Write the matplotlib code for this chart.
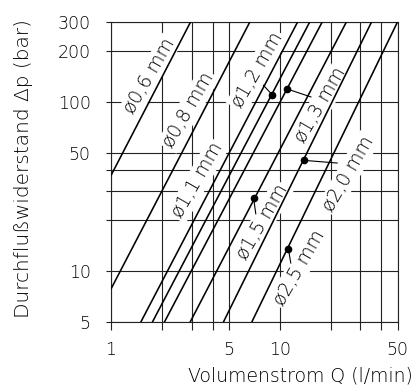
import matplotlib
matplotlib.use("Agg")
import matplotlib.pyplot as plt

plt.rcParams['font.family'] = ['DejaVu Sans']
plt.rcParams['font.weight'] = 'light'

# Line endpoints (Q in l/min, dp in bar)
diam_labels = ['ø0,6 mm', 'ø0,8 mm', 'ø1,1 mm', 'ø1,2 mm', 'ø1,3 mm', 'ø1,5 mm', 'ø2,0 mm', 'ø2,5 mm']
q_start = [1.0, 1.0, 1.50, 1.757, 2.07, 2.94, 4.63, 6.82]
p_start = [36.9, 7.87, 5, 5, 5, 5, 5, 5]
q_end = [2.97, 6.67, 12.8, 15.1, 17.9, 24.9, 35.1, 50.0]
p_end = [300, 300, 300, 300, 300, 300, 300, 300]

# label centre positions (data coords)
lab_q = [1.70, 2.87, 3.25, 7.37, 17.5, 7.89, 25.5, 13.0]
lab_p = [142.6, 89.7, 34.5, 154.7, 96.0, 19.5, 37.8, 10.5]

# leader lines: dot on line -> end near label
lead_q0 = [9.0, 11.0, 7.0, 14.0, 11.25]
lead_p0 = [111, 120, 27.1, 45.3, 13.6]
lead_q1 = [8.0, 15.3, 7.21, 21.9, 11.62]
lead_p1 = [126, 107.5, 21.9, 43.7, 11.2]

xticks = [1, 2, 3, 4, 5, 10, 20, 30, 40, 50]
xticklabels = ['1', '', '', '', '5', '10', '', '', '', '50']
yticks = [5, 10, 20, 30, 40, 50, 100, 200, 300]
yticklabels = ['5', '10', '', '', '', '50', '100', '200', '300']

fig = plt.figure(figsize=(4.17, 3.85), dpi=100)
ax = fig.add_axes([0.2662, 0.163, 0.6875, 0.781])
ax.set_xscale('log')
ax.set_yscale('log')
ax.set_xlim(1, 50)
ax.set_ylim(5, 300)

ax.set_xticks(xticks)
ax.set_xticklabels(xticklabels)
ax.set_yticks(yticks)
ax.set_yticklabels(yticklabels)
ax.minorticks_off()
ax.tick_params(axis='x', length=5.8, width=0.8, pad=8, labelsize=12.5, color='#222')
ax.tick_params(axis='y', length=3.6, width=0.8, pad=11, labelsize=12.5, color='#222')
ax.set_axisbelow(True)
ax.grid(True, color='#222', lw=0.8)
for s in ax.spines.values():
    s.set_linewidth(0.8)
    s.set_color('#222')

for qs, ps, qe, pe in zip(q_start, p_start, q_end, p_end):
    ax.plot([qs, qe], [ps, pe], color='black', lw=1.15, zorder=4, solid_capstyle='butt')

for t, x, y in zip(diam_labels, lab_q, lab_p):
    ax.text(x, y, t, rotation=60, rotation_mode='anchor', ha='center', va='center',
            fontsize=13.5, zorder=3,
            bbox=dict(boxstyle='square,pad=0.1', fc='white', ec='none'))

for x0, y0, x1, y1 in zip(lead_q0, lead_p0, lead_q1, lead_p1):
    ax.plot([x0, x1], [y0, y1], color='black', lw=0.8, zorder=4)
    ax.plot([x0], [y0], 'o', color='black', ms=4.5, zorder=5)

fig.text(413 / 417, 1 - 376 / 385, 'Volumenstrom Q (l/min)', ha='right', va='center', fontsize=13.6)
fig.text(24 / 417, 1 - 168.5 / 385, 'Durchflußwiderstand Δp (bar)', rotation=90,
         ha='center', va='center', fontsize=14.5)

fig.savefig('out.png', dpi=100)
